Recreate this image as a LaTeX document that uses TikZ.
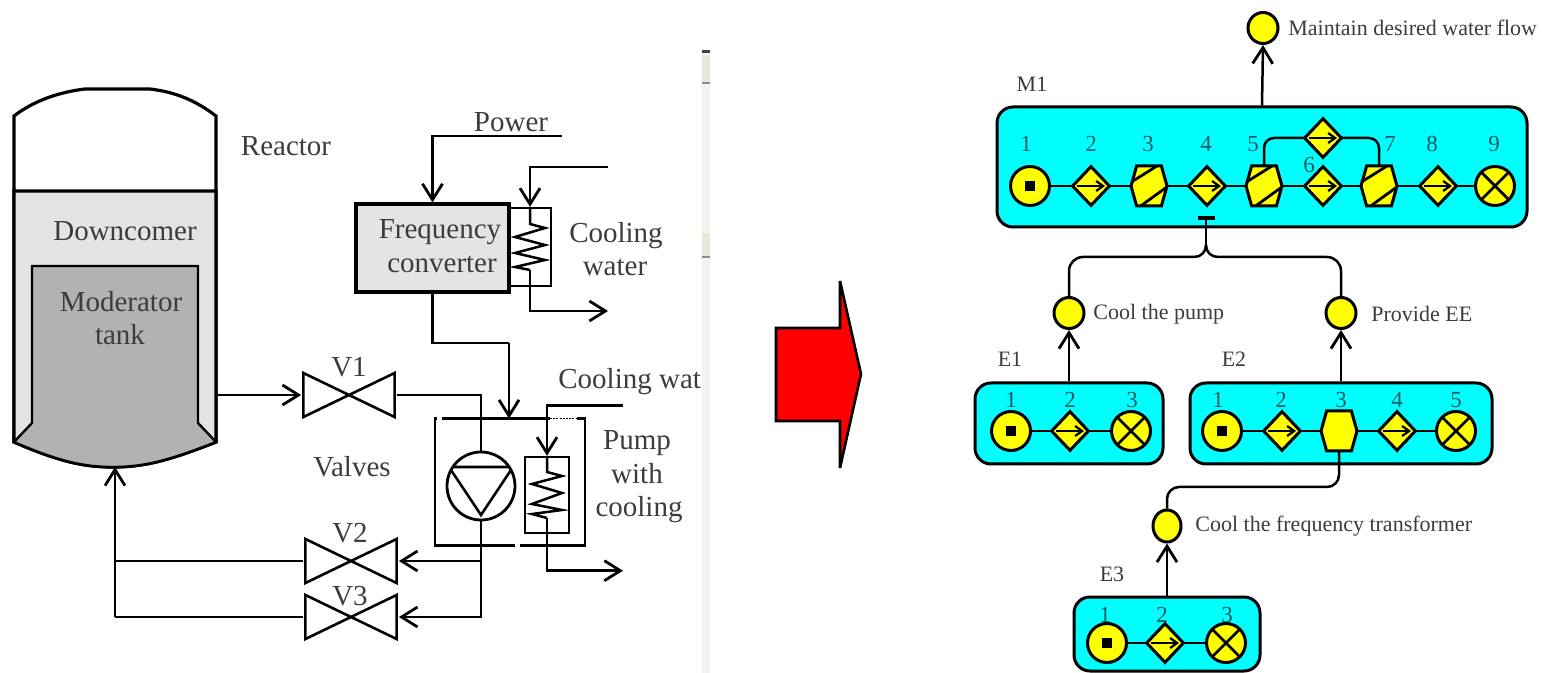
\documentclass[tikz,border=0pt]{standalone}
\usepackage{fontspec}
\setmainfont{Liberation Serif}
\usetikzlibrary{arrows.meta,shapes.geometric}
\pgfdeclarelayer{boxes}
\pgfdeclarelayer{links}
\pgfsetlayers{boxes,links,main}
\definecolor{txt}{HTML}{3C3C3C}
\definecolor{numc}{HTML}{0F5A60}
\definecolor{pale}{HTML}{E4E4E4}
\definecolor{midg}{HTML}{B2B2B2}
\definecolor{strip}{HTML}{F4F3EE}
\definecolor{stripb}{HTML}{E9E6D8}
\definecolor{modc}{HTML}{00FFFF}
\definecolor{yel}{HTML}{FFFF00}
\definecolor{redc}{HTML}{FF0000}
\tikzset{
  x=0.5pt,y=-0.5pt,
  line join=round,
  barb/.style={-{Straight Barb[length=8pt,width=10pt,line width=1.4pt]}},
  pl/.style={line width=1.25pt,black},
  bigt/.style={font=\fontsize{14.5}{16}\selectfont,text=txt,inner sep=0pt,align=center},
  smallt/.style={font=\fontsize{11}{13}\selectfont,text=txt,inner sep=0pt,anchor=west},
  numt/.style={font=\fontsize{11.5}{13}\selectfont,text=numc,inner sep=0pt},
  labt/.style={font=\fontsize{11}{13}\selectfont,text=txt,inner sep=0pt},
  valve/.style={rectangle,inner sep=0pt,minimum width=47.5pt,minimum height=24pt,
    path picture={\begin{scope}[shift={(path picture bounding box.center)},x=1pt,y=1pt]
      \draw[line width=1.3pt] (-22.8,11)--(22.8,-11)--(22.8,11)--(-22.8,-11)--cycle;
    \end{scope}}},
  pumpc/.style={circle,draw,line width=1.4pt,inner sep=0pt,minimum size=34pt,
    path picture={\begin{scope}[shift={(path picture bounding box.center)},x=1pt,y=1pt]
      \draw[line width=1.3pt] (-16,9.5)--(16,9.5)--(0,-14.5)--cycle;
    \end{scope}}},
  coolbox/.style={rectangle,draw,line width=1.2pt,inner sep=0pt},
  greybox/.style={rectangle,draw,line width=1.6pt,fill=pale,inner sep=0pt,minimum width=76.5pt,minimum height=44pt},
  mod/.style={rectangle,rounded corners=8pt,draw,line width=1.5pt,fill=modc,inner sep=0pt},
  goal/.style={ellipse,draw,line width=1.5pt,fill=yel,inner sep=0pt,minimum width=15pt,minimum height=15.5pt},
  src/.style={circle,draw,line width=1.5pt,fill=yel,inner sep=0pt,minimum size=19.5pt,
    path picture={\fill[black] ([xshift=-2.5pt,yshift=-2.5pt]path picture bounding box.center) rectangle ++(5pt,5pt);}},
  snk/.style={circle,draw,line width=1.5pt,fill=yel,inner sep=0pt,minimum size=19.5pt,
    path picture={\begin{scope}[shift={(path picture bounding box.center)},x=1pt,y=1pt]
      \draw[line width=1.4pt] (-10,-10)--(10,10) (-10,10)--(10,-10);
    \end{scope}}},
  dia/.style={diamond,draw,line width=1.5pt,fill=yel,inner sep=0pt,minimum width=19pt,minimum height=20pt,
    path picture={\begin{scope}[shift={(path picture bounding box.center)},x=1pt,y=1pt]
      \draw[line width=1pt,-{Straight Barb[length=3.5pt,width=5pt,line width=1.1pt]}] (-7,0)--(7,0);
    \end{scope}}},
  hexplain/.style={rectangle,inner sep=0pt,minimum width=20pt,minimum height=22pt,
    path picture={\begin{scope}[shift={(path picture bounding box.center)},x=1pt,y=1pt]
      \filldraw[fill=yel,line width=1.5pt] (-9,0)--(-6.2,10)--(6.2,10)--(9,0)--(6.2,-10)--(-6.2,-10)--cycle;
    \end{scope}}},
  hexbar/.style={rectangle,inner sep=0pt,minimum width=20pt,minimum height=22pt,
    path picture={\begin{scope}[shift={(path picture bounding box.center)},x=1pt,y=1pt]
      \filldraw[fill=yel,line width=1.5pt] (-9,0)--(-6.2,10)--(6.2,10)--(9,0)--(6.2,-10)--(-6.2,-10)--cycle;
      \draw[line width=1.4pt] (-8.8,2)--(4,10) (-3.9,-9.8)--(8.5,-0.8);
    \end{scope}}},
}
\begin{document}
\begin{tikzpicture}
\useasboundingbox (0,0) rectangle (1542,673);
% scroll strip
\fill[strip] (702,50) rectangle (710,673);
\fill[stripb] (702,55) rectangle (710,83);
\fill[stripb] (702,233) rectangle (710,257);
\fill[black!75] (702,50.5) rectangle (710,53.5);
\fill[black!45] (702,82.5) rectangle (710,84);
\fill[black!45] (702,256.5) rectangle (710,258);
% reactor
\draw[line width=1.6pt,fill=white] (14,442)--(14,116) .. controls (35,100) and (60,92) .. (85,89) -- (150,89) .. controls (175,92) and (195,100) .. (216,116) -- (216,442)
  .. controls (170,460) and (145,467) .. (113,467) .. controls (85,467) and (60,462) .. (14,442) -- cycle;
\filldraw[line width=1.6pt,fill=pale] (14,442)--(14,191)--(216,191)--(216,442) .. controls (170,460) and (145,467) .. (113,467) .. controls (85,467) and (60,462) .. (14,442) -- cycle;
\filldraw[line width=1.2pt,fill=midg] (32,423)--(32,266)--(198,266)--(198,423)--(216,442)
  .. controls (170,460) and (145,467) .. (113,467) .. controls (85,467) and (60,462) .. (14,442) -- cycle;
\coordinate (rout) at (216,395);
\coordinate (rin) at (115,467);
\node[bigt] (treactor) at (286,146) {Reactor};
\node[bigt] (tdown) at (125,231) {Downcomer};
\node[bigt] (tmod) at (121,302) {Moderator};
\node[bigt] (ttank) at (120,335) {tank};
% valves
\node[valve] (V1) at (349,395) {};
\node[valve] (V2) at (351,561) {};
\node[valve] (V3) at (351,617) {};
\node[bigt] (tV1) at (349,367) {V1};
\node[bigt] (tV2) at (350,533) {V2};
\node[bigt] (tV3) at (350,596) {V3};
\node[bigt] (tvalves) at (352,467) {Valves};
% frequency converter
\node[coolbox,minimum width=21pt,minimum height=39pt] (cool1) at (530,247) {};
\node[greybox] (fc) at (432.5,248) {};
\node[bigt] (tf1) at (440,232) {Frequency};
\node[bigt] (tf2) at (442,264) {converter};
\node[bigt] (tpower) at (511,122) {Power};
\node[bigt] (tc1) at (616,236) {Cooling};
\node[bigt] (tc2) at (615,267) {water};
\coordinate (pw) at (562,136);
\coordinate (cw1) at (608,167);
\coordinate (cw1o) at (608,311);
\coordinate (fb) at (509,343);
\draw[pl,barb] (pw) -| (fc.north);
\draw[pl,barb] (cw1) -| (cool1.north);
\draw[pl] (cool1.north) -- (530,224) -- (545,228) -- (515,237) -- (545,245) -- (515,253) -- (545,260) -- (515,267) -- (530,270);
\draw[pl,barb] (530,270) |- (cw1o);
% pump
\coordinate (pbt) at (509,418.5);
\draw[line width=1.3pt] (442,418.5) -- (550,418.5);
\draw[line width=.9pt,dash pattern=on 1pt off .6pt] (550,418.5) -- (577,418.5);
\draw[line width=1.3pt] (577,418.5) -- (585,418.5) -- (585,545.7) -- (520,545.7) (515,545.7) -- (435,545.7) -- (435,418.5) -- (437,418.5);
\draw[pl] (fc.south) |- (fb);
\draw[pl,barb] (fb) -- (pbt);
\node[pumpc] (pump) at (481,486) {};
\node[coolbox,minimum width=22pt,minimum height=38pt] (cool2) at (547,495) {};
\coordinate (cw2) at (623,405.7);
\coordinate (cw2o) at (623,570.7);
\draw[pl,barb] (cw2) -| (cool2.north);
\draw[pl] (cool2.north) -- (547,472) -- (562,476) -- (532,484) -- (562,493) -- (532,504) -- (562,510) -- (532,514) -- (547,518);
\draw[pl,barb] (547,518) |- (cw2o);
\node[bigt,anchor=west] (tcw) at (558,382) {Cooling wat};
\node[bigt] (tp1) at (637,443) {Pump};
\node[bigt] (tp2) at (637,474) {with};
\node[bigt] (tp3) at (639,510) {cooling};
% pipes
\draw[pl,barb] (rout) -- (V1.west);
\draw[pl] (V1.east) -| (pump.north);
\coordinate (j2) at (481,561);
\draw[pl] (pump.south) -- (j2);
\draw[pl,barb] (j2) -- (V2.east);
\draw[pl,barb] (j2) |- (V3.east);
\coordinate (l2) at (115,561);
\coordinate (l3) at (115,617);
\draw[pl] (V2.west) -- (l2);
\draw[pl] (V3.west) -- (l3);
\draw[line width=.9pt,barb] (l3) -- (rin);
% red arrow
\draw[line width=1.3pt,fill=redc,line join=miter,miter limit=2] (776,328)--(840,328)--(840,281)--(861,374)--(840,468)--(840,421)--(776,421)--cycle;
% right: modules
\begin{pgfonlayer}{boxes}
\node[mod,minimum width=265pt,minimum height=60pt] (M1) at (1262,167) {};
\node[mod,minimum width=94pt,minimum height=40.5pt] (E1) at (1069,423.5) {};
\node[mod,minimum width=151pt,minimum height=40.5pt] (E2) at (1341,423.5) {};
\node[mod,minimum width=93pt,minimum height=37pt] (E3) at (1167,634) {};
\end{pgfonlayer}
% goals
\node[goal] (gM) at (1263,28) {};
\node[goal] (gE1) at (1069,313) {};
\node[goal] (gE2) at (1341,313) {};
\node[goal,minimum width=14pt,minimum height=16pt] (gE3) at (1167,526) {};
\node[smallt] (tgM) at (1288,28) {Maintain desired water flow};
\node[smallt] (tgE1) at (1093,314) {Cool the pump};
\node[smallt] (tgE2) at (1371,314) {Provide EE};
\node[smallt] (tgE3) at (1195,526) {Cool the frequency transformer};
\node[labt] (tM1) at (1032,84) {M1};
\node[labt] (tE1) at (1010,359) {E1};
\node[labt] (tE2) at (1234,359) {E2};
\node[labt] (tE3) at (1112,574) {E3};
% M1 contents
\node[src] (m1) at (1030,186) {};
\node[dia] (m2) at (1091,186) {};
\node[hexbar] (m3) at (1149,186) {};
\node[dia] (m4) at (1207,186) {};
\node[hexbar] (m5) at (1264,186) {};
\node[dia] (m6) at (1323,186) {};
\node[hexbar] (m7) at (1379,186) {};
\node[dia] (m8) at (1438,186) {};
\node[snk] (m9) at (1495,186) {};
\node[dia] (m6b) at (1323,138) {};
\foreach \t/\x/\y in {1/1026/144,2/1091/144,3/1148/144,4/1206/144,5/1253/144,6/1309/165,7/1390/144,8/1432/144,9/1494/144}
  \node[numt] (nm\t) at (\x,\y) {\t};
% E1 contents
\node[src] (a1) at (1011,431) {};
\node[dia] (a2) at (1070,431) {};
\node[snk] (a3) at (1131,431) {};
\foreach \t/\x in {1/1011,2/1070,3/1132}
  \node[numt] (na\t) at (\x,400) {\t};
% E2 contents
\node[src] (b1) at (1222,431) {};
\node[dia] (b2) at (1282,431) {};
\node[hexplain] (b3) at (1339,431) {};
\node[dia] (b4) at (1397,431) {};
\node[snk] (b5) at (1456,431) {};
\foreach \t/\x in {1/1218,2/1281,3/1341,4/1397,5/1456}
  \node[numt] (nb\t) at (\x,400) {\t};
% E3 contents
\node[src] (c1) at (1107,643) {};
\node[dia] (c2) at (1165,643) {};
\node[snk] (c3) at (1226,643) {};
\foreach \t/\x in {1/1105,2/1162,3/1227}
  \node[numt] (nc\t) at (\x,615) {\t};
% T bar and fork
\node[rectangle,fill=black,inner sep=0pt,minimum width=8.5pt,minimum height=1.8pt] (tbar) at (1206,218) {};
\coordinate (fork) at (1206,245);
\coordinate (fl) at (1194,257);
\coordinate (fr) at (1218,257);
\coordinate (b3a) at (1339,487);
\coordinate (b3b) at (1167,487);
\begin{pgfonlayer}{links}
\foreach \p/\q in {m1/m2,m2/m3,m3/m4,m4/m5,m5/m6,m6/m7,m7/m8,m8/m9,a1/a2,a2/a3,b1/b2,b2/b3,b3/b4,b4/b5,c1/c2,c2/c3}
  \draw[pl] (\p.center) -- (\q.center);
\draw[pl,rounded corners=5pt] (m5.center) |- (m6b.center) -| (m7.center);
\draw[pl,barb] (M1.north) -- (gM.south);
\draw[pl,barb] (E1.north) -- (gE1.south);
\draw[pl,barb] (E2.north) -- (gE2.south);
\draw[pl,barb] (E3.north) -- (gE3.south);
\draw[pl] (tbar.center) -- (fork);
\draw[pl] (fork) .. controls (1206,252) and (1201,257) .. (fl);
\draw[pl] (fork) .. controls (1206,252) and (1211,257) .. (fr);
\draw[pl,rounded corners=7pt] (fl) -| (gE1.north);
\draw[pl,rounded corners=7pt] (fr) -| (gE2.north);
\draw[pl,rounded corners=6pt] (b3.center) -- (b3a) -- (b3b) -- (gE3.north);
\end{pgfonlayer}
\end{tikzpicture}
\end{document}
